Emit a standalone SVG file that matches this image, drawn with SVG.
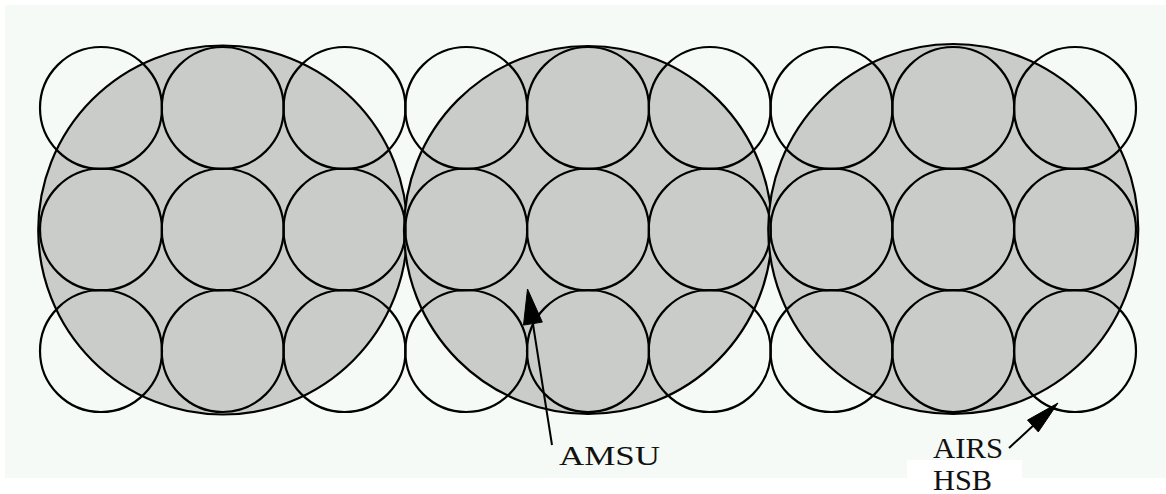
<svg xmlns="http://www.w3.org/2000/svg" width="1166" height="494" viewBox="0 0 1166 494">
<style>
.amsu{fill:#c9ccc9;stroke:#000;stroke-width:2.2}
.airs{fill:none;stroke:#000;stroke-width:2.2}
.lbl{font-family:"Liberation Serif","DejaVu Serif",serif;fill:#111}
.conn{stroke:#000;stroke-width:2;fill:none}
.head{fill:#000;stroke:#000;stroke-width:1}
</style>
<rect x="0" y="0" width="1166" height="494" fill="#ffffff"/>
<rect x="5" y="5" width="1161" height="473" fill="#f6faf6"/>
<g id="amsu-fov-1"><circle class="amsu" cx="222.75" cy="230" r="184.5"/></g>
<g id="amsu-fov-2"><circle class="amsu" cx="588" cy="230" r="184"/></g>
<g id="amsu-fov-3"><circle class="amsu" cx="953.25" cy="229" r="185"/></g>
<g id="airs-fov-1">
<circle class="airs" cx="101" cy="108" r="61"/><circle class="airs" cx="222.75" cy="108" r="61"/><circle class="airs" cx="344.5" cy="108" r="61"/>
<circle class="airs" cx="101" cy="229.5" r="61"/><circle class="airs" cx="222.75" cy="229.5" r="61"/><circle class="airs" cx="344.5" cy="229.5" r="61"/>
<circle class="airs" cx="101" cy="351" r="61"/><circle class="airs" cx="222.75" cy="351" r="61"/><circle class="airs" cx="344.5" cy="351" r="61"/>
</g>
<g id="airs-fov-2">
<circle class="airs" cx="466.25" cy="108" r="61"/><circle class="airs" cx="588" cy="108" r="61"/><circle class="airs" cx="709.75" cy="108" r="61"/>
<circle class="airs" cx="466.25" cy="229.5" r="61"/><circle class="airs" cx="588" cy="229.5" r="61"/><circle class="airs" cx="709.75" cy="229.5" r="61"/>
<circle class="airs" cx="466.25" cy="351" r="61"/><circle class="airs" cx="588" cy="351" r="61"/><circle class="airs" cx="709.75" cy="351" r="61"/>
</g>
<g id="airs-fov-3">
<circle class="airs" cx="831.5" cy="108" r="61"/><circle class="airs" cx="953.25" cy="108" r="61"/><circle class="airs" cx="1075" cy="108" r="61"/>
<circle class="airs" cx="831.5" cy="229.5" r="61"/><circle class="airs" cx="953.25" cy="229.5" r="61"/><circle class="airs" cx="1075" cy="229.5" r="61"/>
<circle class="airs" cx="831.5" cy="351" r="61"/><circle class="airs" cx="953.25" cy="351" r="61"/><circle class="airs" cx="1075" cy="351" r="61"/>
</g>
<g id="connectors">
<line class="conn" x1="552" y1="445" x2="532" y2="318"/>
<polygon class="head" points="527.5,289 542.3,322.1 523.5,325.1"/>
<line class="conn" x1="1009" y1="448" x2="1036" y2="423"/>
<polygon class="head" points="1058,403 1038.3,431.9 1027.5,420.1"/>
</g>
<g id="label-amsu">
<text class="lbl" x="559" y="465" font-size="27" textLength="101" lengthAdjust="spacingAndGlyphs">AMSU</text>
</g>
<g id="label-airs-hsb">
<rect x="907" y="460" width="115" height="34" fill="#ffffff"/>
<text class="lbl" x="933" y="458" font-size="30" textLength="70" lengthAdjust="spacingAndGlyphs">AIRS</text>
<text class="lbl" x="933" y="490" font-size="30" textLength="59" lengthAdjust="spacingAndGlyphs">HSB</text>
</g>
</svg>
